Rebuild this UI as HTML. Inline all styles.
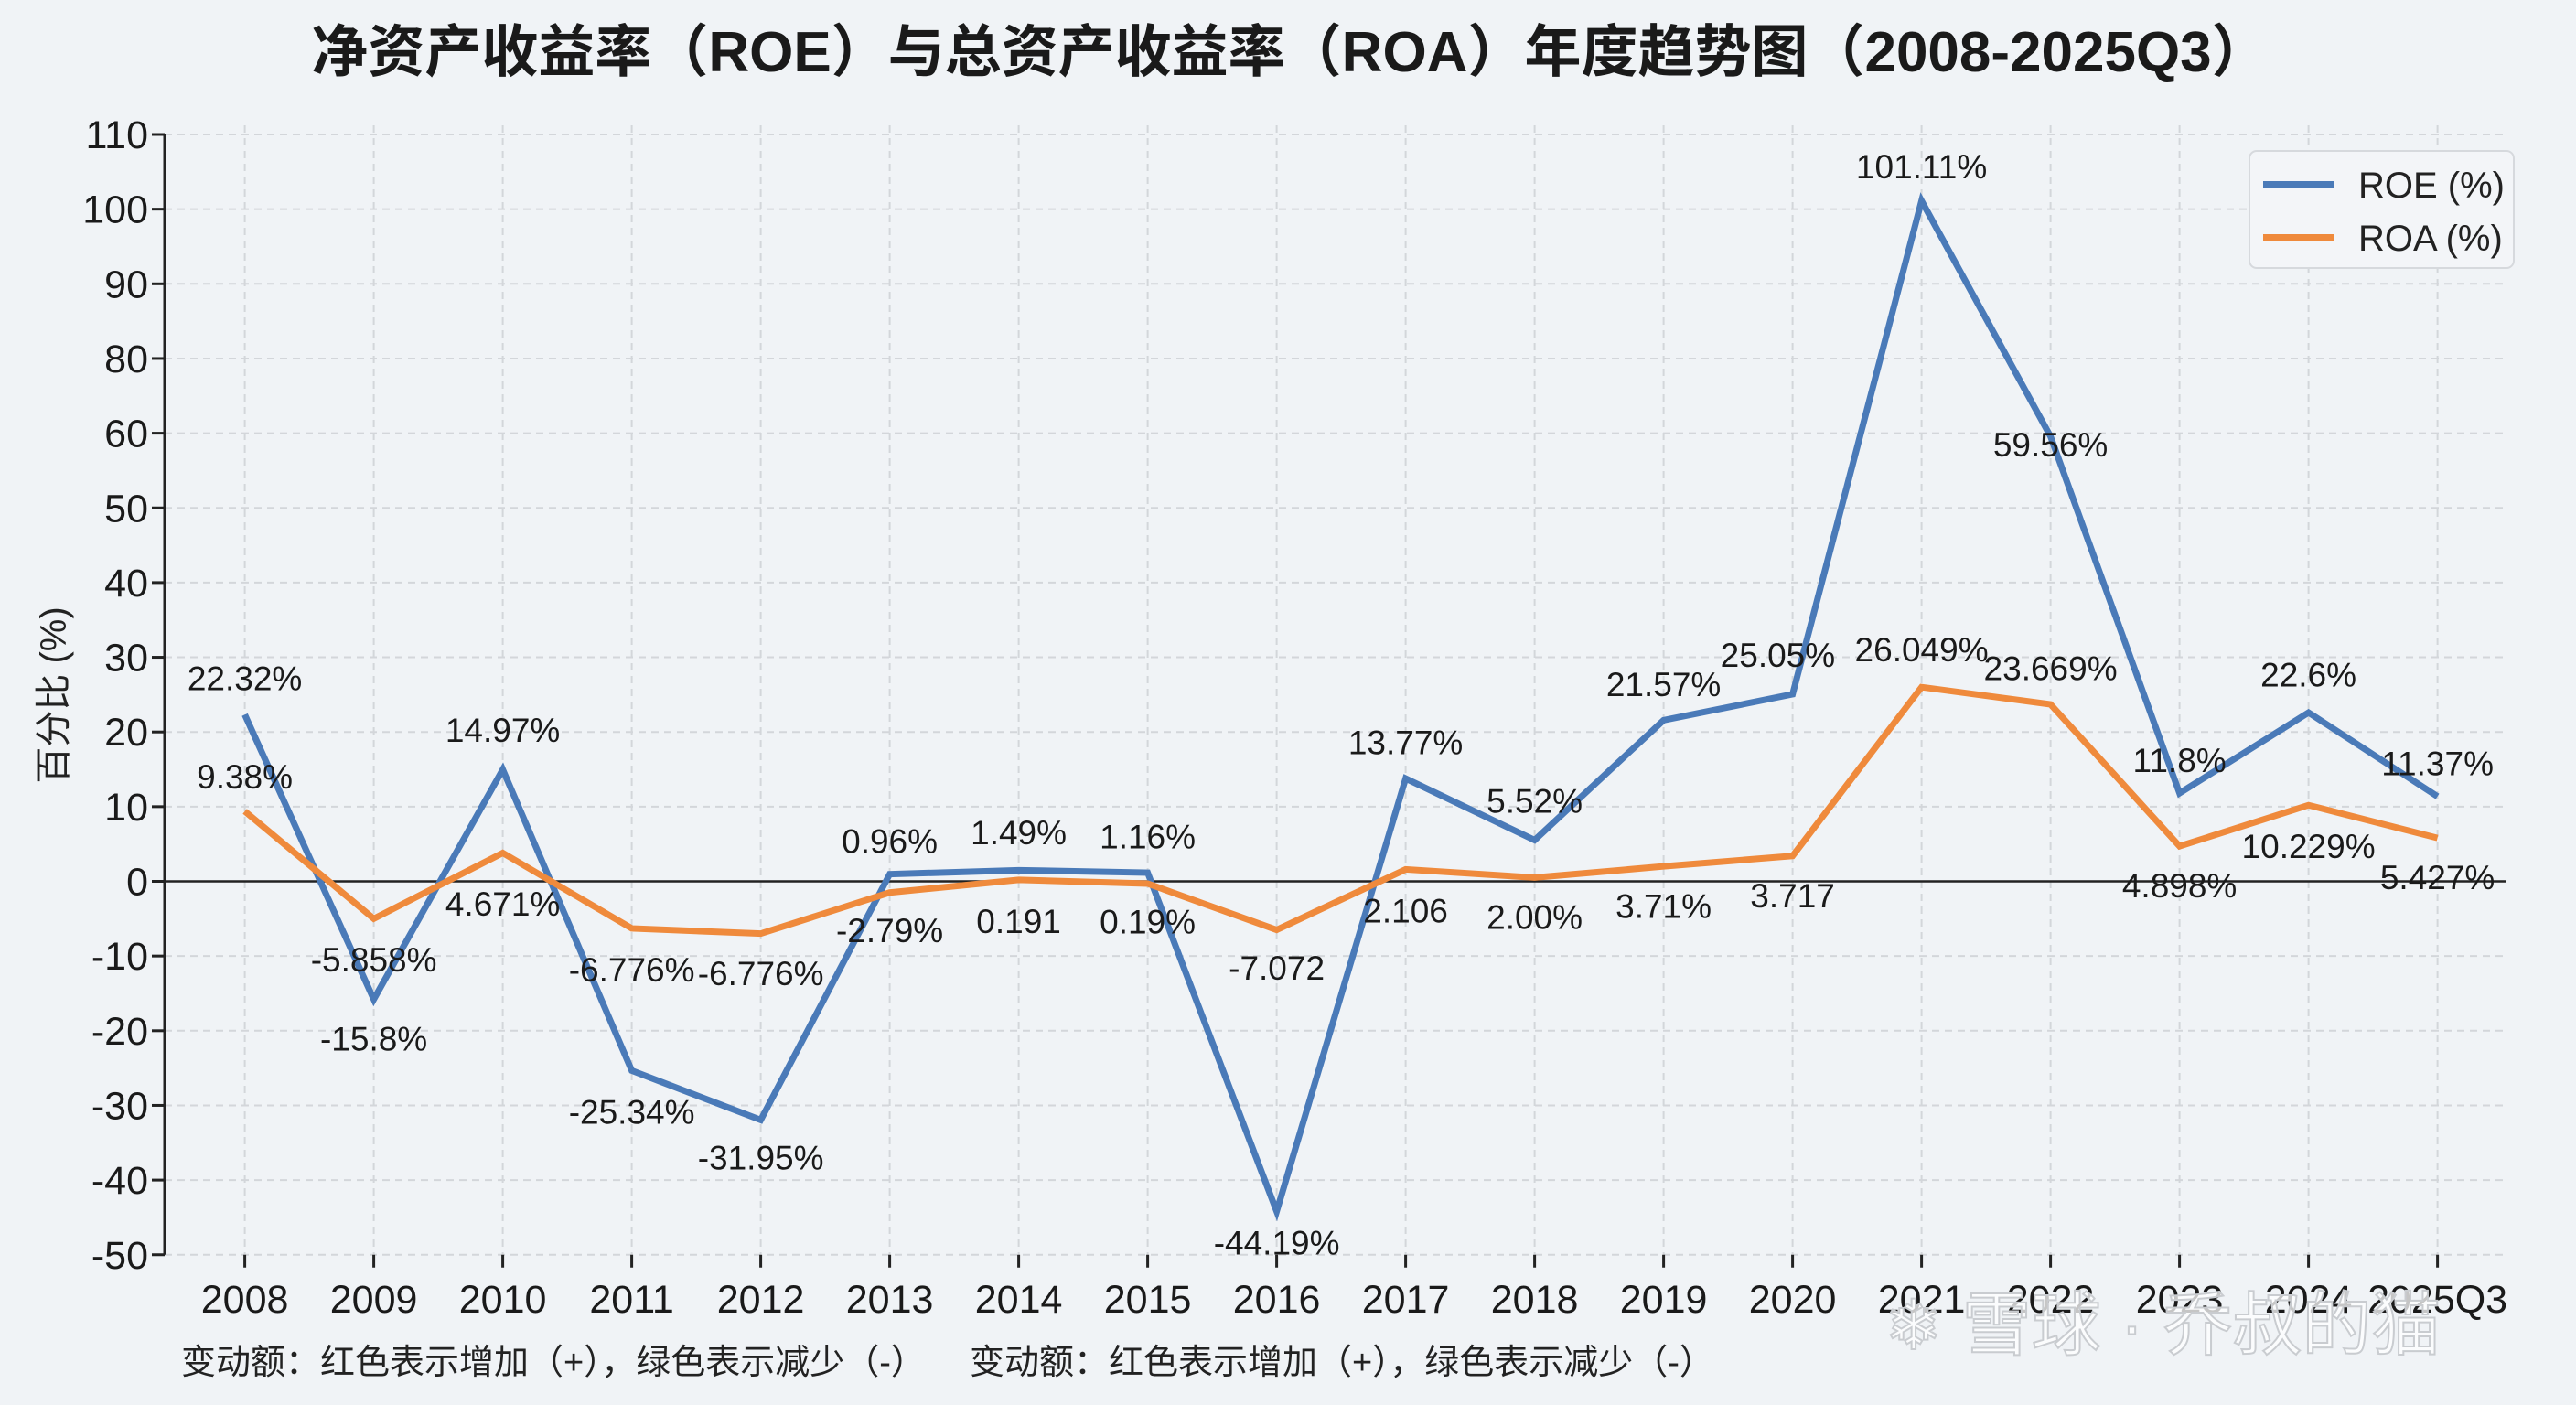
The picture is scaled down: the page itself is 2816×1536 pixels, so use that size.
<!DOCTYPE html>
<html><head><meta charset="utf-8"><style>
html,body{margin:0;padding:0;background:#f0f3f6;}
svg{display:block;font-family:"Liberation Sans","Noto Sans CJK SC",sans-serif;}
</style></head><body>
<svg id="chart" width="2816" height="1536" viewBox="0 0 2816 1536" xmlns="http://www.w3.org/2000/svg">
<rect x="0" y="0" width="2816" height="1536" fill="#f0f3f6"/>
<text x="1410" y="78" text-anchor="middle" font-size="62" font-weight="bold" fill="#1a1a1a">净资产收益率（ROE）与总资产收益率（ROA）年度趋势图（2008-2025Q3）</text>
<text transform="translate(72,760) rotate(-90)" text-anchor="middle" font-size="40" fill="#222">百分比 (%)</text>
<g id="grid"></g>
<g id="axes"></g>
<g id="series"></g>
<g id="labels"></g>
<g>
<rect x="2459" y="165" width="289" height="128" rx="8" fill="#f3f5f8" stroke="#d6d9dd" stroke-width="2"/>
<line x1="2474" y1="202" x2="2551" y2="202" stroke="#4a7ab8" stroke-width="8"/>
<text x="2578" y="216" font-size="40" fill="#222">ROE (%)</text>
<line x1="2474" y1="260" x2="2551" y2="260" stroke="#ef8a3c" stroke-width="8"/>
<text x="2578" y="274" font-size="40" fill="#222">ROA (%)</text>
</g>
<text x="198" y="1502" font-size="38" fill="#222">变动额：红色表示增加（+），绿色表示减少（-）</text>
<text x="1060" y="1502" font-size="38" fill="#222">变动额：红色表示增加（+），绿色表示减少（-）</text>
<text x="2060" y="1475" font-size="76" fill="#ffffff" fill-opacity="0.75" stroke="#c9ccd0" stroke-width="2">❄ 雪球 · 乔叔的猫</text>
</svg>
<script>
const categories = ["2008","2009","2010","2011","2012","2013","2014","2015","2016","2017","2018","2019","2020","2021","2022","2023","2024","2025Q3"];
const roeValues = [22.32,-15.8,14.97,-25.34,-31.95,0.96,1.49,1.16,-44.19,13.77,5.52,21.57,25.05,101.11,59.56,11.8,22.6,11.37];
const roaValues = [9.38,-5.0,3.8,-6.3,-7.0,-1.5,0.2,-0.3,-6.5,1.6,0.5,2.0,3.4,26.0,23.7,4.7,10.2,5.8];
const roeLabels = ["22.32%","-15.8%","14.97%","-25.34%","-31.95%","0.96%","1.49%","1.16%","-44.19%","13.77%","5.52%","21.57%","25.05%","101.11%","59.56%","11.8%","22.6%","11.37%"];
const roaLabels = ["9.38%","-5.858%","4.671%","-6.776%","-6.776%","-2.79%","0.191","0.19%","-7.072","2.106","2.00%","3.71%","3.717","26.049%","23.669%","4.898%","10.229%","5.427%"];
const yTicks = [110,100,90,80,60,50,40,30,20,10,0,-10,-20,-30,-40,-50];

const S = 1.796;
const roeDy = [-22,24,-24,25,23,-20,-23,-22,19,-22,-24,-22,-24,-21,5,-20,-23,-20];
const roaDy = [-21,25,31,25,24,23,25,23,23,25,24,24,24,-23,-22,24,25,24];
const roeDx = [0,0,0,0,0,0,0,0,0,0,0,0,-9,0,0,0,0,0];

const NS = "http://www.w3.org/2000/svg";
const X0 = 267.6, XSTEP = 141.0, LEFT = 180, RIGHT = 2739, TOP = 147, TSTEP = 81.65;
function xPos(i){ return X0 + i*XSTEP; }
function tickY(k){ return TOP + k*TSTEP; }
function yPos(v){
  for (let k=0;k<yTicks.length-1;k++){
    const a=yTicks[k], b=yTicks[k+1];
    if ((v<=a && v>=b) || (k===0 && v>a) || (k===yTicks.length-2 && v<b)){
      return tickY(k) + (a-v)/(a-b)*TSTEP;
    }
  }
  return tickY(0);
}
function mk(tag, attrs, parent){
  const e=document.createElementNS(NS,tag);
  for (const k in attrs) e.setAttribute(k, attrs[k]);
  parent.appendChild(e); return e;
}
const grid=document.getElementById('grid'), axes=document.getElementById('axes');
const series=document.getElementById('series'), labels=document.getElementById('labels');

yTicks.forEach((t,k)=>{
  const y=tickY(k);
  const g=mk('line',{x1:LEFT,x2:RIGHT,y1:y,y2:y,stroke:'#d3d6da','stroke-width':2,'stroke-dasharray':'8,6'},grid);
  
  
  const tk=mk('line',{x1:LEFT-14,x2:LEFT,y1:y,y2:y,stroke:'#222','stroke-width':3},axes);
  
  
  const tl=mk('text',{x:LEFT-18,y:y+15,'text-anchor':'end','font-size':43,fill:'#1a1a1a'},axes);
  tl.textContent=t;
  
  
});
categories.forEach((c,i)=>{
  const x=xPos(i);
  const g=mk('line',{x1:x,x2:x,y1:TOP-10,y2:tickY(yTicks.length-1),stroke:'#d3d6da','stroke-width':2,'stroke-dasharray':'8,6'},grid);
  
  
  const tk=mk('line',{x1:x,x2:x,y1:tickY(yTicks.length-1),y2:tickY(yTicks.length-1)+14,stroke:'#222','stroke-width':3},axes);
  
  
  const tl=mk('text',{x:x,y:1435,'text-anchor':'middle','font-size':43,fill:'#1a1a1a'},axes);
  tl.textContent=c;
  
  
});
const spine=mk('line',{x1:LEFT,x2:LEFT,y1:TOP,y2:tickY(yTicks.length-1),stroke:'#222','stroke-width':3},axes);


const zero=mk('line',{x1:LEFT,x2:RIGHT,y1:yPos(0),y2:yPos(0),stroke:'#222','stroke-width':2.5},axes);



function pts(vals){ return vals.map((v,i)=>xPos(i)+','+yPos(v)).join(' '); }
const roeLine=mk('polyline',{points:pts(roeValues),fill:'none',stroke:'#4a7ab8','stroke-width':7,'stroke-linejoin':'miter'},series);


const roaLine=mk('polyline',{points:pts(roaValues),fill:'none',stroke:'#ef8a3c','stroke-width':7,'stroke-linejoin':'miter'},series);



roeValues.forEach((v,i)=>{
  const t=mk('text',{x:xPos(i)+roeDx[i]*S,y:yPos(v)+roeDy[i]*S+13,'text-anchor':'middle','font-size':37,fill:'#1a1a1a'},labels);
  t.textContent=roeLabels[i];
  
  
});
roaValues.forEach((v,i)=>{
  const t=mk('text',{x:xPos(i),y:yPos(v)+roaDy[i]*S+13,'text-anchor':'middle','font-size':37,fill:'#1a1a1a'},labels);
  t.textContent=roaLabels[i];
  
  
});
</script>
</body></html>
